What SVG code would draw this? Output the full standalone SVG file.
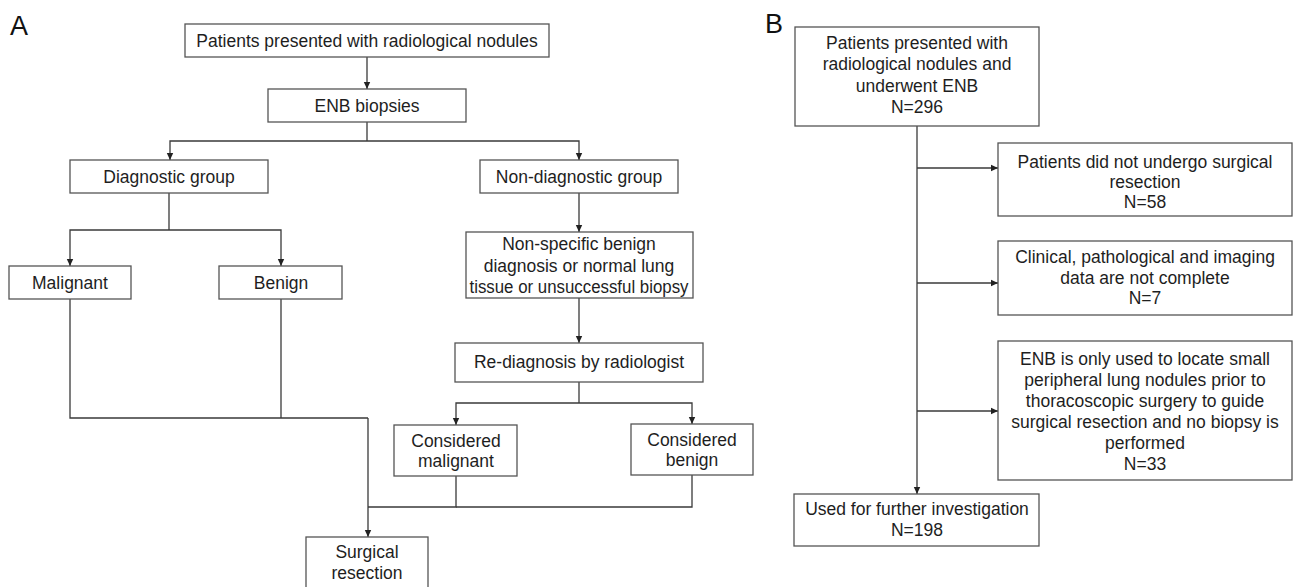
<svg xmlns="http://www.w3.org/2000/svg" width="1293" height="587" viewBox="0 0 1293 587">
<style>
  .box { fill: #ffffff; stroke: #555555; stroke-width: 1.3; }
  .t { font-family: "Liberation Sans", Arial, sans-serif; font-size: 17.5px; fill: #1e1e1e; text-anchor: middle; }
  .lbl { font-family: "Liberation Sans", Arial, sans-serif; font-size: 27px; fill: #111111; }
  .c { fill: none; stroke: #3a3a3a; stroke-width: 1.3; }
  .a { marker-end: url(#arr); }
</style>
<defs>
  <marker id="arr" markerUnits="userSpaceOnUse" markerWidth="8" markerHeight="8" refX="7" refY="4" orient="auto">
    <path d="M0,0.8 L7,4 L0,7.2 z" fill="#222222"/>
  </marker>
</defs>
<rect width="1293" height="587" fill="#ffffff"/>

<text class="lbl" x="10" y="35">A</text>
<text class="lbl" x="765" y="33">B</text>

<g id="connectors">
  <!-- Panel A -->
  <path class="c a" d="M367,57 V89"/>
  <path class="c" d="M367,122 V141"/>
  <path class="c a" d="M367,141 H170 V160"/>
  <path class="c a" d="M367,141 H579 V160"/>
  <path class="c" d="M169,193 V230"/>
  <path class="c a" d="M169,230 H70 V266"/>
  <path class="c a" d="M169,230 H281 V266"/>
  <path class="c a" d="M579,193 V232"/>
  <path class="c a" d="M579,298 V343"/>
  <path class="c" d="M579,382 V403"/>
  <path class="c a" d="M579,403 H456 V425"/>
  <path class="c a" d="M579,403 H692 V424"/>
  <path class="c" d="M70,299 V418 H368"/>
  <path class="c" d="M281,299 V418"/>
  <path class="c a" d="M368,418 V537"/>
  <path class="c" d="M456,476 V507 H368"/>
  <path class="c" d="M692,475 V507 H456"/>
  <!-- Panel B -->
  <path class="c a" d="M917,126 V494"/>
  <path class="c a" d="M917,168 H998"/>
  <path class="c a" d="M917,283 H998"/>
  <path class="c a" d="M917,411 H998"/>
</g>

<g id="a-patients">
  <rect class="box" x="185" y="24" width="364" height="33"/>
  <text class="t" x="367" y="47">Patients presented with radiological nodules</text>
</g>
<g id="a-enb">
  <rect class="box" x="268" y="89" width="198" height="33"/>
  <text class="t" x="367" y="111.5">ENB biopsies</text>
</g>
<g id="a-diagnostic">
  <rect class="box" x="70" y="160" width="198" height="33"/>
  <text class="t" x="169" y="182.5">Diagnostic group</text>
</g>
<g id="a-nondiagnostic">
  <rect class="box" x="480" y="160" width="198" height="33"/>
  <text class="t" x="579" y="182.5">Non-diagnostic group</text>
</g>
<g id="a-malignant">
  <rect class="box" x="9" y="266" width="122" height="33"/>
  <text class="t" x="70" y="288.5">Malignant</text>
</g>
<g id="a-benign">
  <rect class="box" x="219" y="266" width="123" height="33"/>
  <text class="t" x="281" y="288.5">Benign</text>
</g>
<g id="a-nonspecific">
  <rect class="box" x="466" y="232" width="227" height="66"/>
  <text class="t" x="579" y="250">Non-specific benign</text>
  <text class="t" x="579" y="271.5">diagnosis or normal lung</text>
  <text class="t" x="579" y="293" textLength="219" lengthAdjust="spacingAndGlyphs">tissue or unsuccessful biopsy</text>
</g>
<g id="a-rediagnosis">
  <rect class="box" x="455" y="343" width="248" height="39"/>
  <text class="t" x="579" y="368">Re-diagnosis by radiologist</text>
</g>
<g id="a-considered-malignant">
  <rect class="box" x="394" y="425" width="123" height="51"/>
  <text class="t" x="456" y="446.6">Considered</text>
  <text class="t" x="456" y="466.6">malignant</text>
</g>
<g id="a-considered-benign">
  <rect class="box" x="631" y="424" width="122" height="51"/>
  <text class="t" x="692" y="445.6">Considered</text>
  <text class="t" x="692" y="465.6">benign</text>
</g>
<g id="a-surgical">
  <rect class="box" x="306" y="537" width="122" height="52"/>
  <text class="t" x="367" y="558">Surgical</text>
  <text class="t" x="367" y="579">resection</text>
</g>

<g id="b-patients">
  <rect class="box" x="795" y="27" width="244" height="99"/>
  <text class="t" x="917" y="49">Patients presented with</text>
  <text class="t" x="917" y="70">radiological nodules and</text>
  <text class="t" x="917" y="91.5">underwent ENB</text>
  <text class="t" x="917" y="113">N=296</text>
</g>
<g id="b-no-surgery">
  <rect class="box" x="998" y="143" width="294" height="73"/>
  <text class="t" x="1145" y="168">Patients did not undergo surgical</text>
  <text class="t" x="1145" y="188">resection</text>
  <text class="t" x="1145" y="208">N=58</text>
</g>
<g id="b-incomplete">
  <rect class="box" x="998" y="241" width="294" height="74"/>
  <text class="t" x="1145" y="263">Clinical, pathological and imaging</text>
  <text class="t" x="1145" y="283.5">data are not complete</text>
  <text class="t" x="1145" y="304">N=7</text>
</g>
<g id="b-locate">
  <rect class="box" x="998" y="341" width="294" height="139"/>
  <text class="t" x="1145" y="365">ENB is only used to locate small</text>
  <text class="t" x="1145" y="386">peripheral lung nodules prior to</text>
  <text class="t" x="1145" y="407">thoracoscopic surgery to guide</text>
  <text class="t" x="1145" y="428">surgical resection and no biopsy is</text>
  <text class="t" x="1145" y="449">performed</text>
  <text class="t" x="1145" y="470">N=33</text>
</g>
<g id="b-used">
  <rect class="box" x="794" y="494" width="245" height="52"/>
  <text class="t" x="917" y="515">Used for further investigation</text>
  <text class="t" x="917" y="536">N=198</text>
</g>
</svg>
